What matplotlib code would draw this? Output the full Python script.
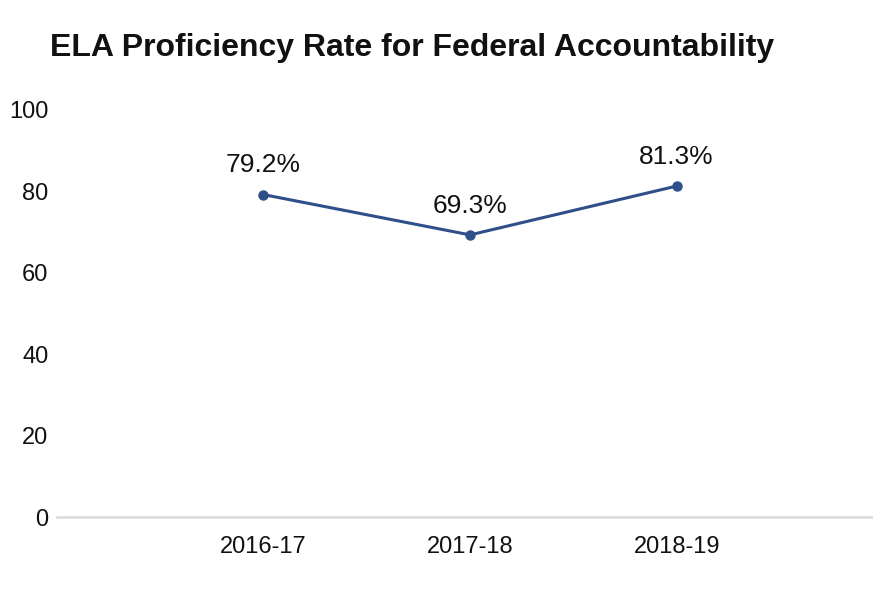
import matplotlib
matplotlib.use("Agg")
import matplotlib.pyplot as plt

years = ["2016-17", "2017-18", "2018-19"]
rates = [79.2, 69.3, 81.3]
yticks = [0, 20, 40, 60, 80, 100]

plt.rcParams["font.family"] = ["Liberation Sans", "DejaVu Sans"]

fig = plt.figure(figsize=(8.73, 5.90), dpi=100)
ax = fig.add_axes([0.065, 0.1237, 0.935, 0.69])

x = list(range(len(years)))
ax.plot(x, rates, color="#2E4F8A", linewidth=2.2, marker="o", markersize=6.5)

for xi, v in zip(x, rates):
    ax.annotate(f"{v}%", (xi, v), xytext=(0, 21), textcoords="offset points",
                ha="center", va="center", fontsize=19, color="#111111")

ax.set_xlim(-1, 2.95)
ax.set_ylim(0, 100)
ax.set_xticks(x)
ax.set_xticklabels(years)
ax.set_yticks(yticks)
ax.tick_params(axis="both", length=0, labelsize=17, colors="#111111")
ax.tick_params(axis="y", pad=6)
ax.tick_params(axis="x", pad=14)

for side in ["top", "right", "left"]:
    ax.spines[side].set_visible(False)
ax.spines["bottom"].set_color("#dddddd")
ax.spines["bottom"].set_linewidth(2)

fig.text(50 / 873, 1 - 48 / 590, "ELA Proficiency Rate for Federal Accountability",
         fontsize=23, fontweight="bold", va="center", ha="left", color="#111111")

fig.savefig("out.png", dpi=100)
